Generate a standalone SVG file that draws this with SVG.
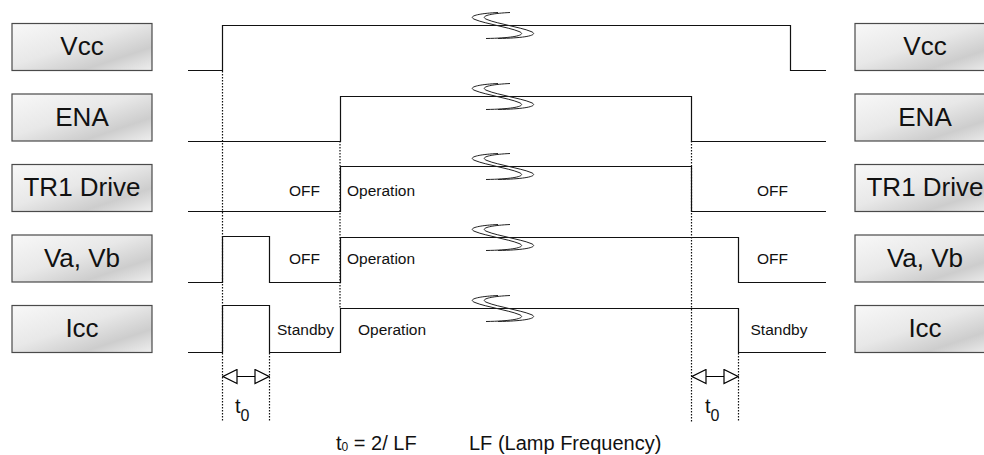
<svg xmlns="http://www.w3.org/2000/svg" width="984" height="455" viewBox="0 0 984 455">
<defs>
<linearGradient id="boxg" x1="0" y1="0" x2="1" y2="1">
<stop offset="0" stop-color="#f8f8f8"/>
<stop offset="0.45" stop-color="#e8e8e8"/>
<stop offset="0.75" stop-color="#cdcdcd"/>
<stop offset="1" stop-color="#efefef"/>
</linearGradient>
<marker id="oa" markerUnits="userSpaceOnUse" markerWidth="16" markerHeight="16" refX="14" refY="7" orient="auto-start-reverse" viewBox="-1 -1 16 16">
<path d="M0,0 L14,7 L0,14 Z" fill="#fff" stroke="#000" stroke-width="1.2"/>
</marker>
<g id="brk">
<path d="M1,-13 C-20,-12 -30,-9 -22,-6 C-16,-3.5 -8,-2 0,0 C8,2 16,3.5 22,6 C30,9 20,12.5 -11,13" transform="translate(-6,0)"/>
<path d="M1,-13 C-20,-12 -30,-9 -22,-6 C-16,-3.5 -8,-2 0,0 C8,2 16,3.5 22,6 C30,9 20,12.5 -11,13" transform="translate(6,0)"/>
</g>
</defs>
<style>
.box{fill:url(#boxg);stroke:#4a4a4a;stroke-width:1.2}
.lbl{font-family:"Liberation Sans",Arial,sans-serif;font-size:26px;fill:#111;text-anchor:middle}
.sm{font-family:"Liberation Sans",Arial,sans-serif;font-size:15.5px;fill:#111}
.big{font-family:"Liberation Sans",Arial,sans-serif;font-size:20px;fill:#111}
.wave{fill:none;stroke:#111;stroke-width:1.2}
.dot{fill:none;stroke:#111;stroke-width:1.2;stroke-dasharray:1.5 1.5}
.brk{fill:none;stroke:#222;stroke-width:1}
.arr{fill:none;stroke:#000;stroke-width:1.2;marker-start:url(#oa);marker-end:url(#oa)}
</style>
<rect width="984" height="455" fill="#fff"/>

<g id="L-Vcc"><rect class="box" x="12" y="23.5" width="140" height="47"/><text class="lbl" x="82" y="55">Vcc</text></g>
<g id="L-ENA"><rect class="box" x="12" y="94" width="140" height="47"/><text class="lbl" x="82" y="125.5">ENA</text></g>
<g id="L-TR1"><rect class="box" x="12" y="164.5" width="140" height="47"/><text class="lbl" x="82" y="196">TR1 Drive</text></g>
<g id="L-Va"><rect class="box" x="12" y="235" width="140" height="47"/><text class="lbl" x="82" y="266.5">Va, Vb</text></g>
<g id="L-Icc"><rect class="box" x="12" y="305.5" width="140" height="47"/><text class="lbl" x="82" y="337">Icc</text></g>

<g id="R-Vcc"><rect class="box" x="855" y="23.5" width="140" height="47"/><text class="lbl" x="925" y="55">Vcc</text></g>
<g id="R-ENA"><rect class="box" x="855" y="94" width="140" height="47"/><text class="lbl" x="925" y="125.5">ENA</text></g>
<g id="R-TR1"><rect class="box" x="855" y="164.5" width="140" height="47"/><text class="lbl" x="925" y="196">TR1 Drive</text></g>
<g id="R-Va"><rect class="box" x="855" y="235" width="140" height="47"/><text class="lbl" x="925" y="266.5">Va, Vb</text></g>
<g id="R-Icc"><rect class="box" x="855" y="305.5" width="140" height="47"/><text class="lbl" x="925" y="337">Icc</text></g>

<g id="connectors">
<path class="dot" d="M222.5,71 V422 M340,141 V308 M269.5,353 V422 M691.5,141 V422 M738.5,353 V422"/>
<path class="wave" d="M188,70.5 H222.5 V25.5 H790.5 V70.5 H826"/>
<path class="wave" d="M188,141.5 H340.5 V96.5 H691.5 V141.5 H826"/>
<path class="wave" d="M188,211.5 H340.5 V166.5 H691.5 V211.5 H826"/>
<path class="wave" d="M188,282.5 H222.5 V236.5 H269.5 V282.5 H340.5 V237.5 H738.5 V282.5 H826"/>
<path class="wave" d="M188,352.5 H222.5 V305.5 H269.5 V352.5 H340.5 V308.5 H738.5 V352.5 H826"/>
<g class="brk">
<use href="#brk" transform="translate(503,25.5)"/>
<use href="#brk" transform="translate(503,96.5)"/>
<use href="#brk" transform="translate(503,166.5)"/>
<use href="#brk" transform="translate(503,237.5)"/>
<use href="#brk" transform="translate(503,308.5)"/>
</g>
<path class="arr" d="M223,376.5 H269"/>
<path class="arr" d="M692,376.5 H738"/>
</g>

<g id="labels">
<text class="sm" x="289" y="195.5">OFF</text>
<text class="sm" x="289" y="263.5">OFF</text>
<text class="sm" x="757" y="195.5">OFF</text>
<text class="sm" x="757" y="263.5">OFF</text>
<text class="sm" x="347" y="195.5">Operation</text>
<text class="sm" x="347" y="263.5">Operation</text>
<text class="sm" x="277" y="335">Standby</text>
<text class="sm" x="358" y="335">Operation</text>
<text class="sm" x="750.5" y="335">Standby</text>
<text class="big" x="235" y="413" font-size="23">t<tspan font-size="16" dy="8">0</tspan></text>
<text class="big" x="705" y="413" font-size="23">t<tspan font-size="16" dy="8">0</tspan></text>
<text class="big" x="336" y="450">t<tspan font-size="12" dy="1">0</tspan><tspan dy="-1"> = 2/ LF</tspan></text>
<text class="big" x="469" y="450">LF (Lamp Frequency)</text>
</g>
</svg>
